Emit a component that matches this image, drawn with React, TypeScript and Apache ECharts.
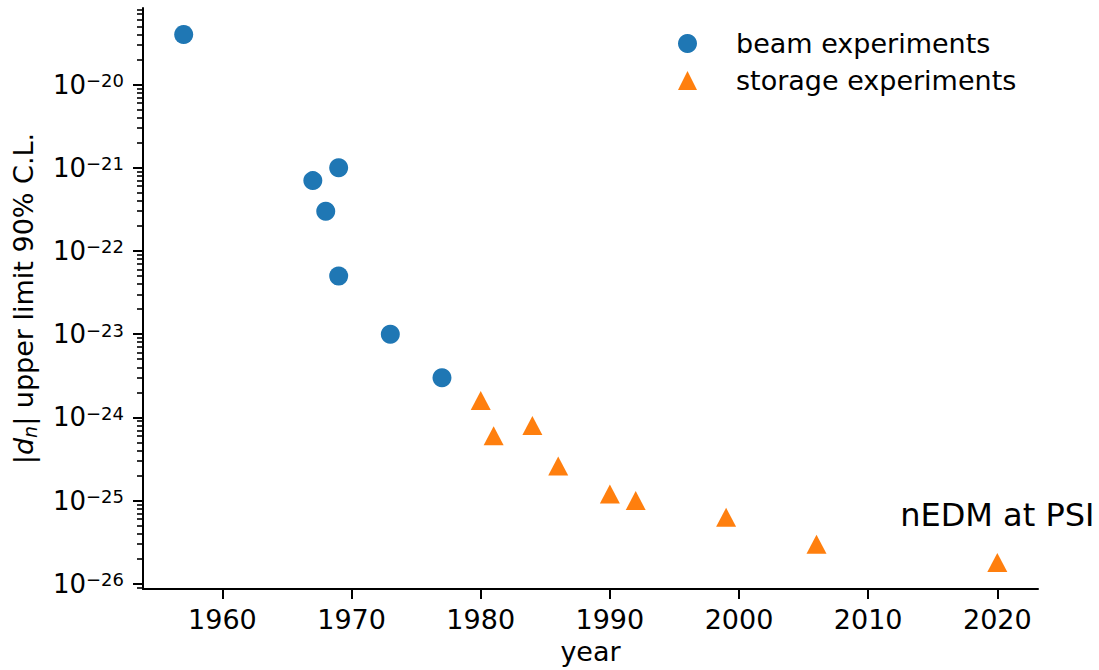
import React, { useEffect, useRef } from "react";
import * as echarts from "echarts";

// Neutron EDM upper limits (90% C.L.) by year
const beamYears = [1957, 1967, 1968, 1969, 1969, 1973, 1977];
const beamLimits = [4e-20, 7e-22, 3e-22, 1e-21, 5e-23, 1e-23, 3e-24];
const storageYears = [1980, 1981, 1984, 1986, 1990, 1992, 1999, 2006, 2020];
const storageLimits = [1.6e-24, 6e-25, 8e-25, 2.6e-25, 1.2e-25, 1e-25, 6.3e-26, 3e-26, 1.8e-26];

const yearTicks = [1960, 1970, 1980, 1990, 2000, 2010, 2020];
const decadeExponents = [-26, -25, -24, -23, -22, -21, -20];
const minorMultipliers = [2, 3, 4, 5, 6, 7, 8, 9];

const annotationYear = 2020;
const annotationText = "nEDM at PSI";

const FONT = "DejaVu Sans";
const BLUE = "#1f77b4";
const ORANGE = "#ff7f0e";

// axis range = data extent plus 5% on each side (log space for y)
function padded(values: number[], frac = 0.05): [number, number] {
  const lo = Math.min(...values);
  const hi = Math.max(...values);
  const pad = (hi - lo) * frac;
  return [lo - pad, hi + pad];
}

export default function App() {
  const ref = useRef<HTMLDivElement>(null);

  useEffect(() => {
    if (!ref.current) return;
    const chart = echarts.init(ref.current, null, { renderer: "svg" });

    const [xMin, xMax] = padded([...beamYears, ...storageYears]);
    const [yMin, yMax] = padded([...beamLimits, ...storageLimits].map(Math.log10));

    const minorTicks: number[] = [];
    for (let e = -27; e <= -19; e++) {
      for (const k of minorMultipliers) {
        const v = e + Math.log10(k);
        if (v >= yMin && v <= yMax) minorTicks.push(v);
      }
    }

    const beamData = beamYears.map((yr, i) => [yr, Math.log10(beamLimits[i])]);
    const storageData = storageYears.map((yr, i) => {
      const item: any = { value: [yr, Math.log10(storageLimits[i])] };
      if (yr === annotationYear) {
        item.label = {
          show: true,
          position: "top",
          distance: 22,
          formatter: annotationText,
          fontFamily: FONT,
          fontSize: 32,
          color: "#000",
        };
      }
      return item;
    });

    const axisLineStyle = { color: "#000", width: 2 };

    chart.setOption({
      animation: false,
      backgroundColor: "#fff",
      textStyle: { fontFamily: FONT },
      grid: { left: 143, right: 61, top: 8, bottom: 81, containLabel: false, outerBoundsMode: "none" },
      legend: {
        orient: "vertical",
        left: 673,
        top: 25,
        itemWidth: 19,
        itemHeight: 19,
        itemGap: 10,
        selectedMode: false,
        textStyle: { fontFamily: FONT, fontSize: 27, lineHeight: 27, color: "#000", padding: [0, 0, 0, 34] },
        data: ["beam experiments", "storage experiments"],
      },
      xAxis: {
        type: "value",
        min: xMin,
        max: xMax,
        splitLine: { show: false },
        axisLine: { show: true, lineStyle: axisLineStyle },
        axisTick: { show: true, length: 10, lineStyle: axisLineStyle, customValues: yearTicks },
        axisLabel: {
          customValues: yearTicks,
          formatter: (v: number) => String(Math.round(v)),
          fontSize: 27,
          color: "#000",
          margin: 17,
          fontFamily: FONT,
        },
        name: "year",
        nameLocation: "middle",
        nameGap: 47,
        nameTextStyle: { fontSize: 27, color: "#000", fontFamily: FONT },
      },
      yAxis: [
        {
          type: "value",
          min: yMin,
          max: yMax,
          splitLine: { show: false },
          axisLine: { show: true, lineStyle: axisLineStyle },
          axisTick: { show: true, length: 10, lineStyle: axisLineStyle, customValues: decadeExponents },
          axisLabel: {
            customValues: decadeExponents,
            margin: 19,
            formatter: (v: number) => `{b|10}{s|\u2212${Math.round(-v)}}`,
            rich: {
              b: { fontSize: 26, lineHeight: 26, color: "#000", fontFamily: FONT },
              s: { fontSize: 18, lineHeight: 16, verticalAlign: "top", color: "#000", fontFamily: FONT },
            },
          },
          name: "|{i|d}{sub|n}| upper limit 90% C.L.",
          nameLocation: "middle",
          nameRotate: 90,
          nameGap: 104,
          nameTextStyle: {
            fontSize: 27,
            lineHeight: 32,
            color: "#000",
            fontFamily: FONT,
            rich: {
              i: { fontSize: 27, lineHeight: 32, fontStyle: "italic", color: "#000", fontFamily: FONT },
              sub: { fontSize: 19, lineHeight: 16, fontStyle: "italic", verticalAlign: "bottom", color: "#000", fontFamily: FONT },
            },
          },
        },
        {
          // minor ticks at 2..9 x 10^n
          type: "value",
          position: "left",
          offset: 0,
          min: yMin,
          max: yMax,
          splitLine: { show: false },
          axisLine: { show: false },
          axisLabel: { show: false },
          axisTick: { show: true, length: 6, lineStyle: { color: "#000", width: 1.6 }, customValues: minorTicks },
        },
      ],
      series: [
        {
          type: "scatter",
          name: "beam experiments",
          symbol: "circle",
          symbolSize: 19,
          yAxisIndex: 0,
          itemStyle: { color: BLUE, opacity: 1 },
          data: beamData,
        },
        {
          type: "scatter",
          name: "storage experiments",
          symbol: "triangle",
          symbolSize: [20, 19],
          yAxisIndex: 0,
          itemStyle: { color: ORANGE, opacity: 1 },
          data: storageData,
        },
      ],
    });

    return () => chart.dispose();
  }, []);

  return (
    <div
      ref={ref}
      style={{ position: "fixed", left: 0, top: 0, width: 1099, height: 670, background: "#fff" }}
    />
  );
}
